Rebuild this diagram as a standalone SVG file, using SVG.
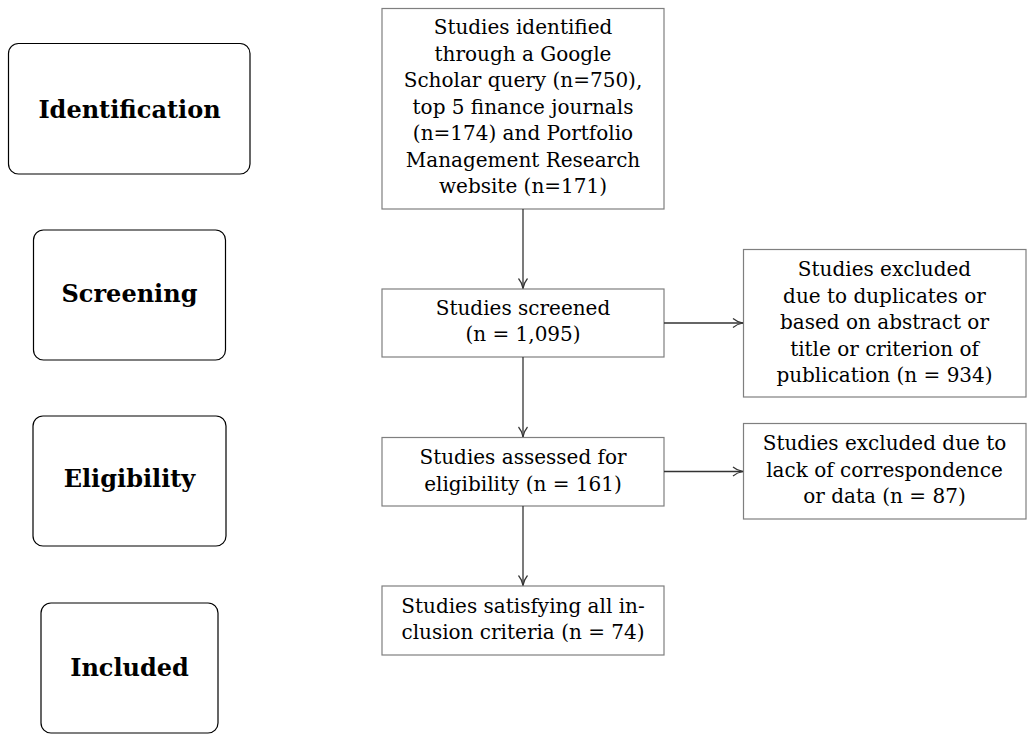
<svg xmlns="http://www.w3.org/2000/svg" width="1035" height="742" viewBox="0 0 1035 742">
<style>
.stage{fill:#fff;stroke:#000;stroke-width:1.2}
.box{fill:#fff;stroke:#7f7f7f;stroke-width:1.2}
.t{font-family:"DejaVu Serif",serif;font-size:20px;fill:#000;text-anchor:middle}
.b{font-family:"DejaVu Serif",serif;font-size:24px;font-weight:bold;fill:#000;text-anchor:middle}
.c{fill:none;stroke:#333;stroke-width:1.3}
</style>
<defs>
<marker id="arr" viewBox="0 0 12 12" refX="11" refY="6" markerWidth="12" markerHeight="12" markerUnits="userSpaceOnUse" orient="auto">
<path d="M1,1.5 Q5,5 11,6 Q5,7 1,10.5" fill="none" stroke="#333" stroke-width="1.2"/>
</marker>
</defs>
<rect width="1035" height="742" fill="#fff"/>
<g id="stage-identification"><rect class="stage" x="8.5" y="43.5" width="241.5" height="130.5" rx="10"/><text class="b" x="129.5" y="118">Identification</text></g>
<g id="stage-screening"><rect class="stage" x="33.5" y="230" width="192" height="130" rx="10"/><text class="b" x="129.5" y="302">Screening</text></g>
<g id="stage-eligibility"><rect class="stage" x="33" y="416" width="193" height="130" rx="10"/><text class="b" x="129.5" y="487">Eligibility</text></g>
<g id="stage-included"><rect class="stage" x="41" y="603" width="177" height="130" rx="10"/><text class="b" x="129.5" y="676">Included</text></g>
<g id="identified"><rect class="box" x="382" y="8.5" width="282" height="200.5"/>
<text class="t" x="523" y="34">Studies identified</text>
<text class="t" x="523" y="60.5">through a Google</text>
<text class="t" x="523" y="87">Scholar query (n=750),</text>
<text class="t" x="523" y="113.5">top 5 finance journals</text>
<text class="t" x="523" y="140">(n=174) and Portfolio</text>
<text class="t" x="523" y="166.5">Management Research</text>
<text class="t" x="523" y="193">website (n=171)</text></g>
<g id="screened"><rect class="box" x="382" y="289" width="282" height="68"/>
<text class="t" x="523" y="315">Studies screened</text>
<text class="t" x="523" y="341">(n = 1,095)</text></g>
<g id="assessed"><rect class="box" x="382" y="437.5" width="282" height="68.5"/>
<text class="t" x="523" y="464">Studies assessed for</text>
<text class="t" x="523" y="490.5">eligibility (n = 161)</text></g>
<g id="included"><rect class="box" x="382" y="586" width="282" height="69"/>
<text class="t" x="523" y="613">Studies satisfying all in-</text>
<text class="t" x="523" y="639">clusion criteria (n = 74)</text></g>
<g id="excluded-screening"><rect class="box" x="743.5" y="249.5" width="282.5" height="147.5"/>
<text class="t" x="884.5" y="276">Studies excluded</text>
<text class="t" x="884.5" y="302.5">due to duplicates or</text>
<text class="t" x="884.5" y="329">based on abstract or</text>
<text class="t" x="884.5" y="355.5">title or criterion of</text>
<text class="t" x="884.5" y="382">publication (n = 934)</text></g>
<g id="excluded-eligibility"><rect class="box" x="743.5" y="423.5" width="282.5" height="95.5"/>
<text class="t" x="884.5" y="450">Studies excluded due to</text>
<text class="t" x="884.5" y="476.5">lack of correspondence</text>
<text class="t" x="884.5" y="503">or data (n = 87)</text></g>
<g id="connectors">
<path class="c" d="M523,209 V288.5" marker-end="url(#arr)"/>
<path class="c" d="M523,357 V437" marker-end="url(#arr)"/>
<path class="c" d="M523,506 V585.5" marker-end="url(#arr)"/>
<path class="c" d="M664,323 H743" marker-end="url(#arr)"/>
<path class="c" d="M664,471.5 H743" marker-end="url(#arr)"/>
</g>
</svg>
